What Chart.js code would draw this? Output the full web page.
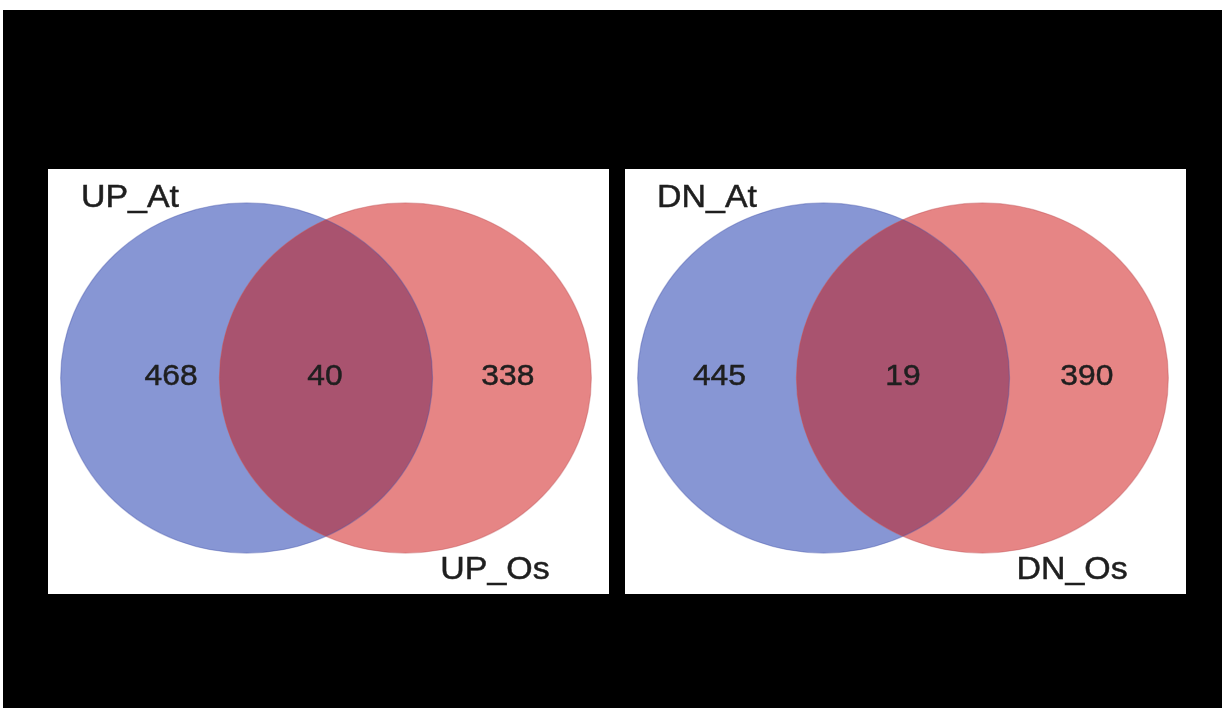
<!DOCTYPE html>
<html>
<head>
<meta charset="utf-8">
<script src="https://cdn.jsdelivr.net/npm/chart.js@4/dist/chart.umd.min.js"></script>
<style>
  html, body { margin: 0; padding: 0; background: #fff; width: 1225px; height: 708px; overflow: hidden; }
  #frame { position: absolute; left: 3px; top: 10px; width: 1219px; height: 698px; background: #000; }
  .panel { position: absolute; top: 169px; width: 561px; height: 425px; background: #fff; }
  #panelUp { left: 48px; }
  #panelDn { left: 625px; }
  canvas { display: block; }
</style>
</head>
<body>
<div id="frame"></div>
<div class="panel" id="panelUp"><canvas id="vennUp" width="561" height="425"></canvas></div>
<div class="panel" id="panelDn"><canvas id="vennDn" width="561" height="425"></canvas></div>
<script>
// Region order: first set only, shared, second set only
const regionNames = ['At only', 'At & Os', 'Os only'];

const upSetNames = ['UP_At', 'UP_Os'];
const upCounts = [468, 40, 338];

const dnSetNames = ['DN_At', 'DN_Os'];
const dnCounts = [445, 19, 390];

// Layout in circle-radius units (radius = 1 on each axis)
const layout = {
  xRange: [-1.495, 1.522],
  yRange: [-1.234, 1.194],
  circles: [{ cx: -0.427, cy: 0, r: 1 }, { cx: 0.427, cy: 0, r: 1 }],
  namePos: [[-1.054, 0.977], [0.909, -1.149]],
  countPos: {
    up: [[-0.833, -0.04], [-0.005, -0.04], [0.978, -0.04]],
    dn: [[-0.987, -0.04], [0.0, -0.04], [0.989, -0.04]]
  }
};

const colors = {
  a: '#8796d4',
  b: '#e68585',
  ab: '#a9536f',
  aEdge: 'rgba(70,85,170,0.4)',
  bEdge: 'rgba(190,80,85,0.4)',
  text: '#1f1f1f'
};

// Draws the two set ellipses through the chart's x/y scales
const vennPlugin = {
  id: 'venn',
  beforeDatasetsDraw(chart) {
    const { ctx, scales: { x, y } } = chart;
    const path = (c) => {
      const px = x.getPixelForValue(c.cx);
      const py = y.getPixelForValue(c.cy);
      const rx = Math.abs(x.getPixelForValue(c.cx + c.r) - px);
      const ry = Math.abs(y.getPixelForValue(c.cy + c.r) - py);
      ctx.beginPath();
      ctx.ellipse(px, py, rx, ry, 0, 0, Math.PI * 2);
    };
    const [A, B] = layout.circles;
    ctx.save();
    path(A); ctx.fillStyle = colors.a; ctx.fill();
    path(B); ctx.fillStyle = colors.b; ctx.fill();
    ctx.save();
    path(A); ctx.clip();
    path(B); ctx.fillStyle = colors.ab; ctx.fill();
    ctx.restore();
    ctx.lineWidth = 1.2;
    path(A); ctx.strokeStyle = colors.aEdge; ctx.stroke();
    path(B); ctx.strokeStyle = colors.bEdge; ctx.stroke();
    ctx.restore();
  },
  afterDatasetsDraw(chart) {
    const { ctx } = chart;
    chart.data.datasets.forEach((ds, di) => {
      const meta = chart.getDatasetMeta(di);
      ctx.save();
      ctx.fillStyle = colors.text;
      ctx.strokeStyle = colors.text;
      ctx.lineWidth = 0.5;
      ctx.font = ds.labelFont;
      ctx.textAlign = 'center';
      ctx.textBaseline = 'alphabetic';
      meta.data.forEach((pt, i) => {
        ctx.save();
        ctx.translate(pt.x, pt.y);
        ctx.scale(1.06, 1);
        const s = String(ds.data[i].label);
        ctx.fillText(s, 0, 0);
        ctx.strokeText(s, 0, 0);
        ctx.restore();
      });
      ctx.restore();
    });
  }
};

function makeVenn(canvasId, setNames, counts, countPos) {
  return new Chart(document.getElementById(canvasId), {
    type: 'scatter',
    data: {
      datasets: [
        {
          label: 'counts',
          data: counts.map((v, i) => ({ x: countPos[i][0], y: countPos[i][1], label: v, region: regionNames[i] })),
          pointRadius: 0,
          labelFont: '30px "Liberation Sans", Arial, sans-serif'
        },
        {
          label: 'sets',
          data: setNames.map((n, i) => ({ x: layout.namePos[i][0], y: layout.namePos[i][1], label: n })),
          pointRadius: 0,
          labelFont: '32px "Liberation Sans", Arial, sans-serif'
        }
      ]
    },
    options: {
      responsive: false,
      animation: false,
      events: [],
      layout: { padding: 0 },
      plugins: { legend: { display: false }, tooltip: { enabled: false } },
      scales: {
        x: { type: 'linear', min: layout.xRange[0], max: layout.xRange[1], display: false },
        y: { type: 'linear', min: layout.yRange[0], max: layout.yRange[1], display: false }
      }
    },
    plugins: [vennPlugin]
  });
}

makeVenn('vennUp', upSetNames, upCounts, layout.countPos.up);
makeVenn('vennDn', dnSetNames, dnCounts, layout.countPos.dn);
</script>
</body>
</html>
